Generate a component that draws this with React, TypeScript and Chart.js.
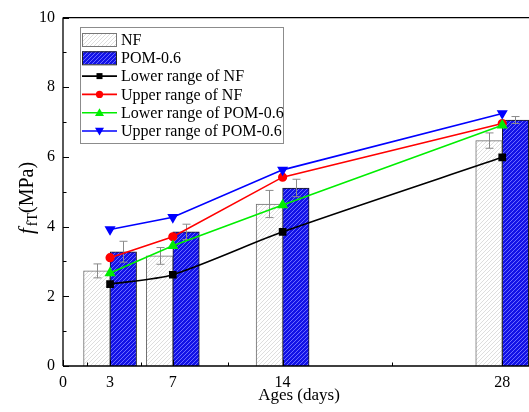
import React, { useEffect, useRef } from 'react';
import { Chart, registerables } from 'chart.js';
Chart.register(...registerables);

const ages = [3, 7, 14, 28];
const nfMean = [2.73, 3.16, 4.65, 6.47];
const nfErr = [0.2, 0.24, 0.39, 0.22];
const pomMean = [3.28, 3.85, 5.11, 7.06];
const pomErr = [0.3, 0.22, 0.25, 0.1];
const lowerNF = [2.35, 2.62, 3.85, 5.99];
const upperNF = [3.11, 3.71, 5.42, 6.96];
const lowerPOM = [2.67, 3.45, 4.62, 6.91];
const upperPOM = [3.92, 4.27, 5.63, 7.25];
const xTicks = [0, 3, 7, 14, 28];
const xMinor = [1.5, 5, 10.5, 21];
const yMinor = [1, 3, 5, 7, 9];
const seriesNames = ['NF', 'POM-0.6', 'Lower range of NF', 'Upper range of NF', 'Lower range of POM-0.6', 'Upper range of POM-0.6'];

const FONT = '"Liberation Serif", "Times New Roman", serif';

function hatch(bg: string, fg: string, s = 4): CanvasPattern | string {
  const c = document.createElement('canvas');
  c.width = s; c.height = s;
  const g = c.getContext('2d');
  if (!g) return bg;
  g.fillStyle = bg; g.fillRect(0, 0, s, s);
  g.strokeStyle = fg; g.lineWidth = 1;
  g.beginPath();
  g.moveTo(-1, s + 1); g.lineTo(s + 1, -1);
  g.moveTo(-1, 1); g.lineTo(1, -1);
  g.moveTo(s - 1, s + 1); g.lineTo(s + 1, s - 1);
  g.stroke();
  const ctx = document.createElement('canvas').getContext('2d');
  return ctx ? (ctx.createPattern(c, 'repeat') as CanvasPattern) : bg;
}

function marker(ctx: CanvasRenderingContext2D, style: string, x: number, y: number, color: string) {
  ctx.save();
  ctx.fillStyle = color;
  ctx.beginPath();
  if (style === 'rect') {
    ctx.rect(x - 3, y - 3, 6, 6);
  } else if (style === 'circle') {
    ctx.arc(x, y, 3.6, 0, Math.PI * 2);
  } else if (style === 'up') {
    ctx.moveTo(x, y - 4.5); ctx.lineTo(x + 4.5, y + 3.2); ctx.lineTo(x - 4.5, y + 3.2); ctx.closePath();
  } else {
    ctx.moveTo(x, y + 4.5); ctx.lineTo(x + 4.5, y - 3.2); ctx.lineTo(x - 4.5, y - 3.2); ctx.closePath();
  }
  ctx.fill();
  ctx.restore();
}

export default function App() {
  const ref = useRef<HTMLCanvasElement | null>(null);
  useEffect(() => {
    if (!ref.current) return;
    const nfPat = hatch('#ffffff', '#dedede', 4);
    const pomPat = hatch('#1212e6', '#6a6aff', 4);

    const errPlugin = {
      id: 'errbars',
      afterDatasetDraw(chart: any, args: any) {
        if (args.index > 1) return;
        const means = args.index === 0 ? nfMean : pomMean;
        const errs = args.index === 0 ? nfErr : pomErr;
        const ys = chart.scales.y;
        const ctx = chart.ctx;
        ctx.save();
        ctx.strokeStyle = '#8a8a8a';
        ctx.lineWidth = 1;
        args.meta.data.forEach((el: any, i: number) => {
          const x = Math.round(el.x) + 0.5;
          const y1 = ys.getPixelForValue(means[i] + errs[i]);
          const y2 = ys.getPixelForValue(means[i] - errs[i]);
          ctx.beginPath();
          ctx.moveTo(x, y1); ctx.lineTo(x, y2);
          ctx.moveTo(x - 4, y1); ctx.lineTo(x + 4, y1);
          ctx.moveTo(x - 4, y2); ctx.lineTo(x + 4, y2);
          ctx.stroke();
        });
        ctx.restore();
      },
    };

    const framePlugin = {
      id: 'frame',
      afterDraw(chart: any) {
        const { ctx, chartArea: a, scales } = chart;
        ctx.save();
        ctx.strokeStyle = '#000';
        ctx.lineWidth = 1.3;
        ctx.beginPath();
        ctx.moveTo(a.left, a.top); ctx.lineTo(a.right, a.top);
        ctx.moveTo(a.left, a.top); ctx.lineTo(a.left, a.bottom);
        ctx.moveTo(a.left, a.bottom); ctx.lineTo(a.right, a.bottom);
        ctx.stroke();
        ctx.lineWidth = 1;
        ctx.beginPath();
        [0, 2, 4, 6, 8, 10].forEach((v) => {
          const y = Math.round(scales.y.getPixelForValue(v)) + 0.5;
          ctx.moveTo(a.left, y); ctx.lineTo(a.left + 6, y);
        });
        yMinor.forEach((v) => {
          const y = Math.round(scales.y.getPixelForValue(v)) + 0.5;
          ctx.moveTo(a.left, y); ctx.lineTo(a.left + 3.5, y);
        });
        xTicks.forEach((v) => {
          const x = Math.round(scales.x.getPixelForValue(v)) + 0.5;
          ctx.moveTo(x, a.bottom); ctx.lineTo(x, a.bottom - 6);
        });
        xMinor.forEach((v) => {
          const x = Math.round(scales.x.getPixelForValue(v)) + 0.5;
          ctx.moveTo(x, a.bottom); ctx.lineTo(x, a.bottom - 3.5);
        });
        ctx.stroke();

        // axis titles
        ctx.fillStyle = '#000';
        ctx.textBaseline = 'alphabetic';
        ctx.textAlign = 'center';
        ctx.font = `17px ${FONT}`;
        ctx.fillText('Ages (days)', 299, 400);

        ctx.save();
        ctx.translate(33, 198);
        ctx.rotate(-Math.PI / 2);
        ctx.textAlign = 'left';
        ctx.font = `italic 21px ${FONT}`;
        const p1 = 'f';
        const p2 = 'fT';
        const p3 = '(MPa)';
        const w1 = ctx.measureText(p1).width;
        ctx.font = `14px ${FONT}`;
        const w2 = ctx.measureText(p2).width;
        ctx.font = `20px ${FONT}`;
        const w3 = ctx.measureText(p3).width;
        const total = w1 + 2 + w2 + w3;
        let cx = -total / 2;
        ctx.font = `italic 21px ${FONT}`;
        ctx.fillText(p1, cx, 0);
        cx += w1 + 2;
        ctx.font = `14px ${FONT}`;
        ctx.fillText(p2, cx, 4);
        cx += w2;
        ctx.font = `20px ${FONT}`;
        ctx.fillText(p3, cx, 0);
        ctx.restore();

        // legend
        const lx = 80, ly = 27, lw = 203, lh = 116;
        ctx.fillStyle = '#fff';
        ctx.fillRect(lx, ly, lw, lh);
        ctx.strokeStyle = '#8c8c8c';
        ctx.lineWidth = 1;
        ctx.strokeRect(lx + 0.5, ly + 0.5, lw, lh);
        const rows = [39.5, 57.8, 76.1, 94.4, 112.7, 131];
        ctx.font = `16px ${FONT}`;
        ctx.textAlign = 'left';
        ctx.textBaseline = 'middle';
        seriesNames.forEach((name, i) => {
          const y = rows[i];
          if (i < 2) {
            ctx.fillStyle = i === 0 ? nfPat : pomPat;
            ctx.fillRect(82, y - 6.5, 34, 13);
            ctx.strokeStyle = i === 0 ? '#777' : '#222';
            ctx.strokeRect(82.5, y - 6, 34, 13);
          } else {
            const colors = ['#000000', '#ff0000', '#00ee00', '#0000ff'];
            const styles = ['rect', 'circle', 'up', 'down'];
            const c = colors[i - 2];
            ctx.strokeStyle = c;
            ctx.lineWidth = 1.6;
            ctx.beginPath();
            ctx.moveTo(82, y); ctx.lineTo(117, y);
            ctx.stroke();
            ctx.lineWidth = 1;
            marker(ctx, styles[i - 2], 99.5, y, c);
          }
          ctx.fillStyle = '#000';
          ctx.fillText(name, 121, y + 1);
        });
        ctx.restore();
      },
    };

    const pts = (arr: number[]) => ages.map((a, i) => ({ x: a, y: arr[i] }));

    const chart = new Chart(ref.current, {
      type: 'bar',
      data: {
        datasets: [
          { type: 'bar', label: seriesNames[0], data: pts(nfMean), backgroundColor: nfPat as any, borderColor: '#6e6e6e', borderWidth: 1, barThickness: 26.5, order: 10 },
          { type: 'bar', label: seriesNames[1], data: pts(pomMean), backgroundColor: pomPat as any, borderColor: '#1a1a1a', borderWidth: 1, barThickness: 26.5, order: 10 },
          { type: 'line', label: seriesNames[2], data: pts(lowerNF), borderColor: '#000', backgroundColor: '#000', borderWidth: 1.6, pointStyle: 'rect', pointRadius: 4.3, tension: 0.25, order: 4 },
          { type: 'line', label: seriesNames[3], data: pts(upperNF), borderColor: '#ff0000', backgroundColor: '#ff0000', borderWidth: 1.6, pointStyle: 'circle', pointRadius: 3.8, tension: 0, order: 3 },
          { type: 'line', label: seriesNames[4], data: pts(lowerPOM), borderColor: '#00ee00', backgroundColor: '#00ee00', borderWidth: 1.6, pointStyle: 'triangle', pointRadius: 4.8, tension: 0, order: 2 },
          { type: 'line', label: seriesNames[5], data: pts(upperPOM), borderColor: '#0000ff', backgroundColor: '#0000ff', borderWidth: 1.6, pointStyle: 'triangle', pointRotation: 180, pointRadius: 4.8, tension: 0, order: 1 },
        ] as any,
      },
      options: {
        animation: false,
        responsive: false,
        layout: { padding: { top: 15, left: 0, right: 0, bottom: 0 } },
        plugins: { legend: { display: false }, tooltip: { enabled: false }, title: { display: false } },
        scales: {
          x: {
            type: 'linear',
            offset: false,
            min: 0,
            max: 30,
            grid: { display: false, drawTicks: false, offset: false },
            border: { display: false },
            afterBuildTicks: (s: any) => { s.ticks = xTicks.map((v) => ({ value: v })); },
            afterFit: (s: any) => { s.height = 46; },
            ticks: { padding: 7, color: '#000', font: { family: FONT, size: 16 }, maxRotation: 0, autoSkip: false },
          },
          y: {
            min: 0,
            max: 10,
            grid: { display: false, drawTicks: false },
            border: { display: false },
            afterFit: (s: any) => { s.width = 63; },
            ticks: { stepSize: 2, padding: 8, color: '#000', font: { family: FONT, size: 16 } },
          },
        },
      },
      plugins: [errPlugin, framePlugin],
    } as any);
    return () => chart.destroy();
  }, []);

  return (
    <div style={{ position: 'absolute', left: 0, top: 0, width: 529, height: 412, overflow: 'hidden', background: '#fff' }}>
      <canvas ref={ref} width={540} height={412} style={{ display: 'block', width: 540, height: 412 }} />
    </div>
  );
}
